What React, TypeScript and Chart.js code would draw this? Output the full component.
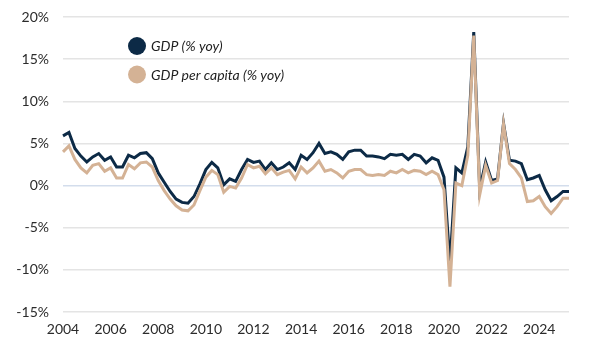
import React, { useEffect, useRef } from 'react';
import { Chart, registerables } from 'chart.js';

Chart.register(...registerables);

// Quarterly, 2004 Q1 – 2025 Q2
const gdpYoY = [
  5.9, 6.3, 4.4, 3.5, 2.8, 3.4, 3.8, 3.0, 3.4, 2.2, 2.2, 3.6, 3.3, 3.8, 3.9, 3.2,
  1.5, 0.4, -0.7, -1.6, -2.0, -2.1, -1.3, 0.2, 1.9, 2.75, 2.1, 0.1, 0.8, 0.5, 1.9, 3.1,
  2.75, 2.9, 1.9, 2.7, 1.9, 2.2, 2.7, 1.9, 3.6, 3.1, 3.9, 5.0, 3.8, 4.0, 3.7, 3.1,
  4.0, 4.2, 4.2, 3.5, 3.5, 3.4, 3.2, 3.7, 3.6, 3.7, 3.1, 3.7, 3.5, 2.7, 3.3, 3.0,
  1.0, -9.3, 2.1, 1.5, 4.6, 18.2, -0.4, 2.8, 0.6, 0.8, 7.4, 3.0, 2.9, 2.6, 0.7, 0.9,
  1.2, -0.5, -1.8, -1.3, -0.7, -0.7,
];

const gdpPerCapitaYoY = [
  4.0, 4.7, 3.1, 2.1, 1.5, 2.4, 2.6, 1.7, 2.1, 0.9, 0.9, 2.5, 2.0, 2.7, 2.8, 2.2,
  0.6, -0.6, -1.6, -2.4, -2.9, -3.0, -2.3, -0.6, 1.0, 1.8, 1.3, -0.8, -0.1, -0.3, 0.9, 2.5,
  2.1, 2.3, 1.4, 2.1, 1.3, 1.6, 1.8, 0.8, 2.2, 1.5, 2.1, 2.9, 1.7, 1.9, 1.5, 0.9,
  1.7, 1.9, 1.9, 1.3, 1.2, 1.3, 1.2, 1.7, 1.5, 1.9, 1.5, 1.8, 1.7, 1.3, 1.7, 1.3,
  -0.5, -12.0, 0.3, 0.0, 3.6, 17.8, -1.1, 2.4, 0.3, 0.6, 7.3, 2.6, 1.9, 0.9, -1.9, -1.8,
  -1.3, -2.5, -3.3, -2.5, -1.5, -1.5,
];

const firstYear = 2004;
const quarterLabels = gdpYoY.map((_, i) => `${firstYear + Math.floor(i / 4)} Q${(i % 4) + 1}`);

const seriesNames = ['GDP (% yoy)', 'GDP per capita (% yoy)'];
const seriesColors = ['#0c2a46', '#d4b295'];

const yMin = -15;
const yMax = 20;
const yStep = 5;

const insideLegend = {
  id: 'insideLegend',
  afterDraw(chart: any) {
    const ctx = chart.ctx;
    ctx.save();
    seriesNames.forEach((name, k) => {
      const cy = 46 + k * 28.5;
      ctx.beginPath();
      ctx.arc(137, cy, 9, 0, Math.PI * 2);
      ctx.fillStyle = seriesColors[k];
      ctx.fill();
      ctx.font = 'italic 14px Lato';
      ctx.fillStyle = '#1e1e1e';
      ctx.textBaseline = 'middle';
      ctx.textAlign = 'left';
      ctx.fillText(name, 151, cy + 0.5);
    });
    ctx.restore();
  },
};

export default function App() {
  const canvasRef = useRef<HTMLCanvasElement | null>(null);

  useEffect(() => {
    if (!canvasRef.current) return;
    const chart = new Chart(canvasRef.current, {
      type: 'line',
      data: {
        labels: quarterLabels,
        datasets: [
          {
            label: seriesNames[0],
            data: gdpYoY,
            borderColor: seriesColors[0],
            backgroundColor: seriesColors[0],
            borderWidth: 3,
            pointRadius: 0,
            tension: 0,
            order: 1,
          },
          {
            label: seriesNames[1],
            data: gdpPerCapitaYoY,
            borderColor: seriesColors[1],
            backgroundColor: seriesColors[1],
            borderWidth: 3,
            pointRadius: 0,
            tension: 0,
            order: 0,
          },
        ],
      },
      options: {
        animation: false,
        responsive: true,
        maintainAspectRatio: false,
        layout: { padding: { top: 17, right: 31, bottom: 0, left: 0 } },
        plugins: {
          legend: { display: false },
          tooltip: { enabled: false },
        },
        scales: {
          x: {
            type: 'category',
            grid: { display: false },
            border: { display: false },
            ticks: {
              autoSkip: false,
              maxRotation: 0,
              minRotation: 0,
              padding: 1,
              color: '#2b2b2b',
              font: { family: 'Lato', size: 14 },
              callback: (_v: any, i: number) => (i % 8 === 0 ? String(firstYear + i / 4) : ''),
            },
            afterFit: (scale: any) => {
              scale.height = 40;
            },
          },
          y: {
            min: yMin,
            max: yMax,
            grid: {
              drawTicks: false,
              lineWidth: 1.5,
              color: (c: any) => (c.tick && c.tick.value === 0 ? '#d3ddec' : '#e4e4e4'),
            },
            border: { display: false },
            ticks: {
              stepSize: yStep,
              padding: 14,
              color: '#2b2b2b',
              font: { family: 'Lato', size: 14 },
              callback: (v: any) => `${v}%`,
            },
            afterFit: (scale: any) => {
              scale.width = 63;
              scale.paddingTop = 0;
              scale.paddingBottom = 0;
            },
          },
        },
      },
      plugins: [insideLegend],
    });
    return () => chart.destroy();
  }, []);

  return (
    <div style={{ position: 'fixed', left: 0, top: 0, width: 600, height: 352 }}>
      <canvas ref={canvasRef} />
    </div>
  );
}
